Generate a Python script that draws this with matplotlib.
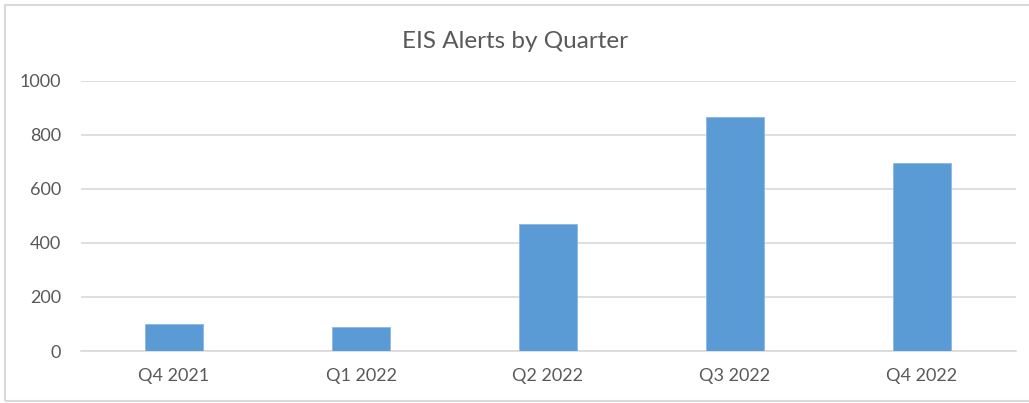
import matplotlib
matplotlib.use("Agg")
import matplotlib.pyplot as plt
from matplotlib.patches import Rectangle

categories = ["Q4 2021", "Q1 2022", "Q2 2022", "Q3 2022", "Q4 2022"]
alerts = [99, 88, 471, 866, 695]
yticks = [0, 200, 400, 600, 800, 1000]
title = "EIS Alerts by Quarter"

plt.rcParams['font.family'] = ['Lato', 'DejaVu Sans']
W, H = 1029, 403
fig = plt.figure(figsize=(W / 100, H / 100), dpi=100)
fig.patch.set_facecolor('white')

ax = fig.add_axes([80.5 / W, 52 / H, 935 / W, 270.3 / H])
x = list(range(len(categories)))
ax.bar(x, alerts, width=0.31, color='#5b9bd5', edgecolor='#8ab8e6', linewidth=0.6, zorder=3)
ax.set_xlim(-0.5, len(categories) - 0.5)
ax.set_ylim(0, 1000)
ax.set_yticks(yticks)
ax.set_yticklabels([str(v) for v in yticks])
ax.set_xticks(x)
ax.set_xticklabels(categories)
ax.grid(axis='y', color='#d9d9d9', linewidth=1.2, zorder=0)
for s in ['top', 'right', 'left']:
    ax.spines[s].set_visible(False)
ax.spines['bottom'].set_color('#d9d9d9')
ax.spines['bottom'].set_linewidth(1.2)
ax.tick_params(axis='both', length=0, colors='#595959', labelsize=13)
ax.tick_params(axis='y', pad=14)
ax.tick_params(axis='x', pad=12)

fig.text(0.5, 1 - 41 / H, title, ha='center', va='center', fontsize=17.5, color='#595959')

fig.patches.append(Rectangle((5 / W, 2 / H), 1.1, (398 - 2) / H, transform=fig.transFigure,
                             fill=False, edgecolor='#d9d9d9', linewidth=1.5))

fig.savefig('out.png', dpi=100, facecolor='white')
